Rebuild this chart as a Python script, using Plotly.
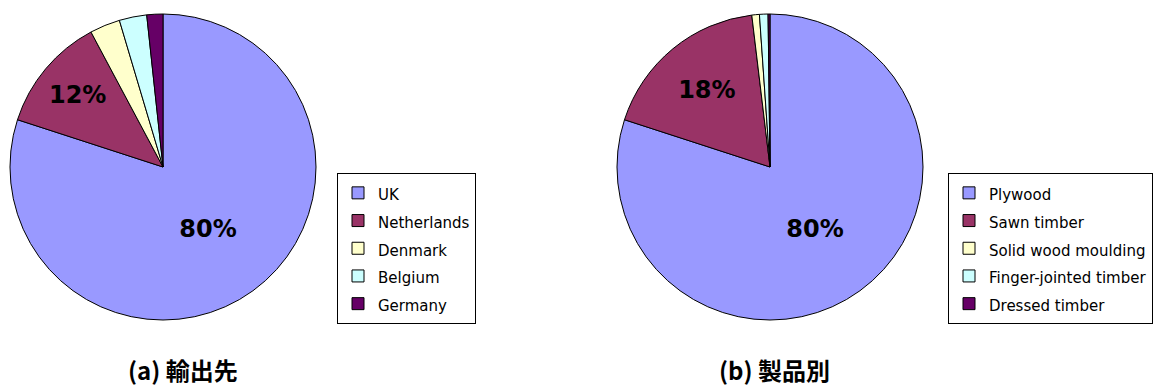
import plotly.graph_objects as go

# Export destinations
dest_labels = ["UK", "Netherlands", "Denmark", "Belgium", "Germany"]
dest_values = [80.0, 12.2, 3.2, 2.9, 1.7]

# Product types
prod_labels = ["Plywood", "Sawn timber", "Solid wood moulding",
               "Finger-jointed timber", "Dressed timber"]
prod_values = [80.0, 18.1, 0.8, 0.9, 0.2]

colors = ["#9999FF", "#993366", "#FFFFCC", "#CCFFFF", "#660066"]
titles = ["(a) 輸出先", "(b) 製品別"]

W, H = 1154, 387


def px_x(v):
    return v / W


def px_y(v):
    return 1 - v / H


def pct_text(values, n_shown=2):
    return ["%{percent:.0%}" if i < n_shown else "" for i in range(len(values))]


def legend_names(labels):
    # smaller inline text keeps the taller row pitch of the legend font
    return [f'<span style="font-size:15px">{s}</span>' for s in labels]


def pie(labels, values, x0, x1, legend):
    return go.Pie(
        labels=legend_names(labels), values=values,
        sort=False, direction="clockwise", rotation=0,
        marker=dict(colors=colors, line=dict(color="#000000", width=1)),
        texttemplate=pct_text(values), textposition="inside",
        insidetextorientation="horizontal",
        textfont=dict(family="DejaVu Sans", size=24, color="#000000",
                      weight="bold"),
        domain=dict(x=[px_x(x0), px_x(x1)], y=[px_y(320), px_y(14)]),
        legend=legend, hoverinfo="percent",
    )


fig = go.Figure()
fig.add_trace(pie(dest_labels, dest_values, 10, 316, "legend"))
fig.add_trace(pie(prod_labels, prod_values, 617, 923, "legend2"))

legend_style = dict(
    bgcolor="#FFFFFF", bordercolor="#000000", borderwidth=1,
    font=dict(family="DejaVu Sans", size=19, color="#000000"),
    xanchor="left", yanchor="top", itemwidth=30,
    itemclick=False, itemdoubleclick=False,
)

title_font = dict(family="Noto Sans CJK JP", size=24, color="#000000")

fig.update_layout(
    width=W, height=H,
    margin=dict(l=0, r=0, t=0, b=0, autoexpand=False),
    paper_bgcolor="#FFFFFF", plot_bgcolor="#FFFFFF",
    showlegend=True,
    legend=dict(x=px_x(337), y=px_y(173), **legend_style),
    legend2=dict(x=px_x(948), y=px_y(173), **legend_style),
    annotations=[
        dict(text=f"<b>{titles[0]}</b>", x=px_x(183), y=px_y(369),
             xref="paper", yref="paper", xanchor="center", yanchor="middle",
             showarrow=False, font=title_font),
        dict(text=f"<b>{titles[1]}</b>", x=px_x(774), y=px_y(369),
             xref="paper", yref="paper", xanchor="center", yanchor="middle",
             showarrow=False, font=title_font),
    ],
)

fig.write_html("out.html")
